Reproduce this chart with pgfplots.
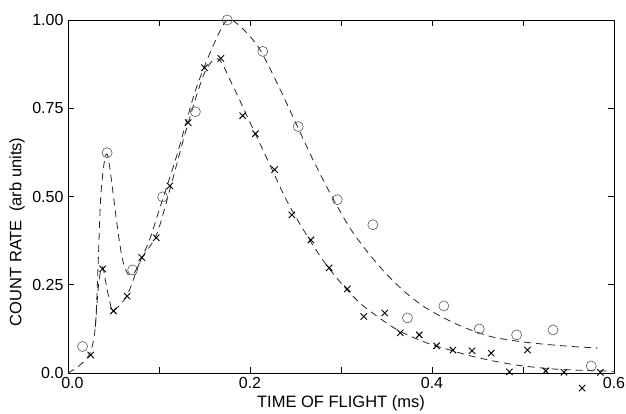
\documentclass[border=0pt]{standalone}
\usepackage{fontspec}
\setmainfont{Liberation Sans}
\usepackage{pgfplots}
\pgfplotsset{compat=1.18}
\begin{document}
\begin{tikzpicture}
\useasboundingbox (-68pt,-41pt) rectangle (558pt,373pt);
\begin{axis}[
  scale only axis, width=546pt, height=353pt,
  xmin=0, xmax=0.6, ymin=0, ymax=1,
  xtick={0,0.1,0.2,0.3,0.4,0.5,0.6}, xticklabels={\hphantom{0}0.0,,0.2,,0.4,,0.6},
  ytick={0,0.25,0.5,0.75,1}, yticklabels={0.0,0.25,0.50,0.75,1.00},
  tick align=inside, major tick length=6pt,
  tick style={black, line width=0.7pt},
  ticklabel style={font=\fontsize{16}{16}\selectfont},
  xticklabel style={yshift=-1pt},
  yticklabel style={xshift=-1pt},
  xlabel={TIME OF FLIGHT (ms)},
  ylabel={COUNT RATE\enspace(arb units)},
  label style={font=\fontsize{16.5}{16}\selectfont},
  xlabel style={at={(axis description cs:0.5,-0.085)}, anchor=center},
  ylabel style={at={(axis description cs:-0.093,0.40)}, anchor=center},
  axis line style={line width=0.8pt},
  clip=false,
]
% dashed curve through the circles
\addplot[smooth, tension=0.5, line width=0.8pt, dash pattern=on 7pt off 5pt, black!85] coordinates {
  (0,0) (0.012,0.02) (0.024,0.055) (0.03,0.13) (0.033,0.3) (0.036,0.5) (0.04,0.6) (0.043,0.62)
  (0.046,0.58) (0.05,0.5) (0.055,0.4) (0.06,0.32) (0.066,0.28) (0.073,0.285) (0.08,0.32)
  (0.09,0.38) (0.1,0.46) (0.12,0.62) (0.14,0.8) (0.16,0.93) (0.175,1.0) (0.19,0.98)
  (0.21,0.92) (0.23,0.82) (0.25,0.71) (0.27,0.6) (0.29,0.5) (0.31,0.41) (0.33,0.34)
  (0.35,0.28) (0.37,0.23) (0.39,0.19) (0.41,0.16) (0.43,0.135) (0.45,0.115) (0.47,0.1)
  (0.5,0.088) (0.53,0.08) (0.56,0.074) (0.582,0.071)
};
% dashed curve through the crosses
\addplot[smooth, tension=0.5, line width=0.8pt, dash pattern=on 7pt off 5pt, black!85] coordinates {
  (0.03,0.13) (0.034,0.26) (0.038,0.3) (0.042,0.25) (0.047,0.19) (0.05,0.176) (0.065,0.22)
  (0.08,0.32) (0.097,0.39) (0.112,0.52) (0.13,0.69) (0.15,0.85) (0.165,0.89) (0.18,0.82)
  (0.2,0.71) (0.22,0.6) (0.24,0.49) (0.26,0.4) (0.28,0.32) (0.3,0.255) (0.32,0.2)
  (0.34,0.16) (0.36,0.125) (0.38,0.1) (0.4,0.08) (0.42,0.065) (0.44,0.05) (0.46,0.038)
  (0.48,0.028) (0.5,0.02) (0.53,0.012) (0.56,0.008) (0.6,0.005)
};
% circles
\addplot[only marks, mark=o, mark size=5pt, mark options={black!65, line width=0.6pt}] coordinates {
  (0.016,0.075) (0.043,0.624) (0.071,0.292) (0.104,0.499) (0.140,0.740) (0.175,1.00)
  (0.214,0.911) (0.253,0.698) (0.296,0.491) (0.335,0.420) (0.373,0.156) (0.413,0.190)
  (0.452,0.125) (0.493,0.108) (0.533,0.122) (0.575,0.020)
};
% crosses
\addplot[only marks, mark=x, mark size=4.5pt, mark options={black, line width=0.9pt}] coordinates {
  (0.025,0.051) (0.038,0.295) (0.050,0.176) (0.065,0.218) (0.081,0.327) (0.097,0.383)
  (0.112,0.530) (0.132,0.709) (0.150,0.865) (0.168,0.891) (0.192,0.729) (0.206,0.678)
  (0.227,0.576) (0.246,0.448) (0.267,0.377) (0.287,0.298) (0.307,0.238) (0.325,0.160)
  (0.348,0.170) (0.365,0.114) (0.386,0.108) (0.405,0.077) (0.423,0.065) (0.444,0.063)
  (0.465,0.056) (0.485,0.003) (0.505,0.065) (0.525,0.006) (0.545,0.002) (0.565,-0.043)
  (0.585,0.002)
};
\end{axis}
\end{tikzpicture}
\end{document}
